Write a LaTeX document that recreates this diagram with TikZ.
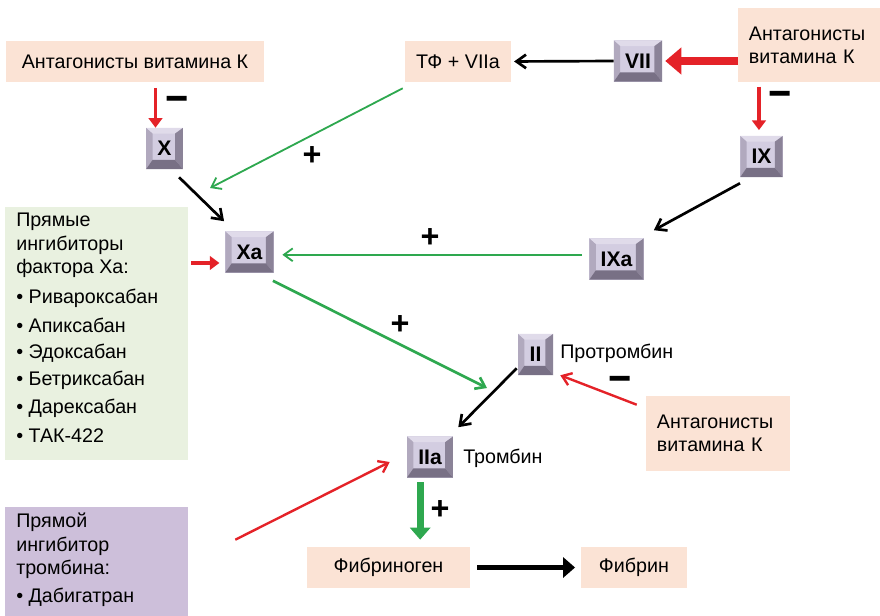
\documentclass[tikz,border=0pt]{standalone}
\usepackage{fontspec}
\setmainfont{Liberation Sans}
\usetikzlibrary{arrows.meta,positioning}
\definecolor{peach}{HTML}{FBE3D5}
\definecolor{sage}{HTML}{E9F1E0}
\definecolor{lilac}{HTML}{CDBFDA}
\definecolor{redarr}{HTML}{E42228}
\definecolor{grn}{HTML}{2EA84F}
\definecolor{face}{HTML}{D3CDE1}
\definecolor{bvtop}{HTML}{E0DBEA}
\definecolor{bvleft}{HTML}{B1A9BE}
\definecolor{bvright}{HTML}{8B8398}
\definecolor{bvbot}{HTML}{787085}
\tikzset{
  txt/.style={font=\fontsize{14}{16.5}\selectfont,align=left},
  pbox/.style={txt,fill=peach,inner sep=0pt},
  lst/.style={txt,anchor=west,inner sep=0pt},
  fac/.style={fill=face,font=\fontsize{15}{15}\selectfont\bfseries,inner xsep=8pt,
    minimum width=0.875cm,minimum height=1.025cm,
    path picture={
      \coordinate (sw) at (path picture bounding box.south west);
      \coordinate (ne) at (path picture bounding box.north east);
      \coordinate (nw) at (sw|-ne); \coordinate (se) at (ne|-sw);
      \fill[bvtop] (nw) -- (ne) -- ([shift={(-5.5pt,-4pt)}]ne) -- ([shift={(4.5pt,-4pt)}]nw) -- cycle;
      \fill[bvleft] (nw) -- (sw) -- ([shift={(4.5pt,6.5pt)}]sw) -- ([shift={(4.5pt,-4pt)}]nw) -- cycle;
      \fill[bvright] (ne) -- (se) -- ([shift={(-5.5pt,6.5pt)}]se) -- ([shift={(-5.5pt,-4pt)}]ne) -- cycle;
      \fill[bvbot] (sw) -- (se) -- ([shift={(-5.5pt,6.5pt)}]se) -- ([shift={(4.5pt,6.5pt)}]sw) -- cycle;
    }},
  sgn/.style={font=\fontsize{23}{23}\selectfont\bfseries,inner sep=0pt},
  sgnm/.style={font=\fontsize{21}{21}\selectfont\bfseries,inner sep=0pt,xscale=1.35,yscale=1.5,transform shape},
  arrk/.style={-{Straight Barb[length=2.4mm,width=3.4mm]},line width=1.9pt,color=black},
  arrg/.style={-{Straight Barb[length=2.2mm,width=3.2mm]},line width=1.3pt,color=grn},
  arrgm/.style={arrg,line width=1.9pt},
  arrr/.style={-{Straight Barb[length=2.2mm,width=3.2mm]},line width=1.7pt,color=redarr},
  arrrm/.style={-{Triangle[length=2.4mm,width=3.4mm]},line width=2.8pt,color=redarr},
  arrrt/.style={-{Triangle[length=4mm,width=6.5mm]},line width=6pt,color=redarr},
  arrgt/.style={-{Triangle[length=3mm,width=5mm]},line width=4.8pt,color=grn},
  arrkt/.style={-{Triangle[length=3mm,width=5mm]},line width=4.2pt,color=black},
}
\begin{document}
\begin{tikzpicture}[x=0.025cm,y=-0.025cm]
\useasboundingbox (0,0) rectangle (880,616);
% substrate and drug boxes
\node[pbox,minimum width=6.45cm,minimum height=1.025cm] (avk1) at (135,61.5) {Антагонисты витамина К};
\node[pbox,minimum width=2.65cm,minimum height=1.025cm] (tfv) at (458,61.5) {ТФ + VIIa};
\node[pbox,minimum width=3.55cm,minimum height=1.85cm,text width=3cm] (avk2) at (809,45) {Антагонисты\\витамина К};
\node[pbox,minimum width=3.6cm,minimum height=1.875cm,text width=3.05cm] (avk3) at (718,433.5) {Антагонисты\\витамина К};
\node[pbox,minimum width=4.075cm,minimum height=1.025cm] (fgn) at (388.5,567.5) {Фибриноген};
\node[pbox,minimum width=2.65cm,minimum height=1.025cm] (fbn) at (634,567.5) {Фибрин};
\node[fill=sage,minimum width=4.575cm,minimum height=6.325cm,inner sep=0pt] (grnb) at (96.5,333.5) {};
\node[fill=lilac,minimum width=4.575cm,minimum height=2.725cm,inner sep=0pt] (pur) at (96.5,561.5) {};
% factors
\node[fac] (X) at (164.5,148.5) {X};
\node[fac] (Xa) at (249.5,252) {Xa};
\node[fac] (VII) at (638,61) {VII};
\node[fac] (IX) at (761.5,156.5) {IX};
\node[fac] (IXa) at (616.5,259) {IXa};
\node[fac] (II) at (535.5,354.5) {II};
\node[fac] (IIa) at (430,457) {IIa};
\node[txt,anchor=west,inner sep=0pt] (ptr) at (560,353) {Протромбин};
\node[txt,anchor=west,inner sep=0pt] (tro) at (463,458) {Тромбин};
% drug lists
\node[txt,anchor=north west,inner sep=0pt] (grnh) at (16,213) {Прямые\\ингибиторы\\фактора Xa:};
\foreach \i/\t in {0/Ривароксабан,1/Апиксабан,2/Эдоксабан,3/Бетриксабан,4/Дарексабан,5/ТАК-422}
  \node[lst] (d\i) at (16,298+27.5*\i) {• \t};
\node[txt,anchor=north west,inner sep=0pt] (purh) at (16,513) {Прямой\\ингибитор\\тромбина:};
\node[lst] (dab) at (16,597) {• Дабигатран};
% connectors
\coordinate (xaL) at ([yshift=-7.8pt]Xa.west);
\coordinate (xaT) at (210,188);
\coordinate (iiaT) at (487,388);
\draw[arrrm,shorten <=4pt] ([xshift=-6.4pt]X.north |- avk1.south) -- ([xshift=-6.4pt]X.north);
\draw[arrrm,shorten <=3pt,shorten >=4pt] ([xshift=-1.8pt]IX.north |- avk2.south) -- ([xshift=-1.8pt]IX.north);
\draw[arrrt] (avk2.west |- VII.east) -- ([xshift=2pt]VII.east);
\draw[arrk,shorten >=2pt] (VII.west) -- (tfv.east);
\draw[arrg] ([shift={(-2,6)}]tfv.south west) -- (xaT);
\draw[arrk] ([shift={(-4,8)}]X.south east) -- ([shift={(-1,-10)}]Xa.north west);
\draw[arrk] ([shift={(0,6)}]IX.south west) -- ([shift={(10,-8)}]IXa.north east);
\draw[arrg,shorten <=5pt,shorten >=6pt] ([yshift=3pt]IXa.west) -- ([yshift=3pt]IXa.west -| Xa.east);
\draw[arrrm,shorten <=2pt,shorten >=4pt] (grnb.east |- xaL) -- (xaL);
\draw[arrgm] ([shift={(-1,8)}]Xa.south east) -- (iiaT);
\draw[arrk] ([shift={(-1,-7)}]II.south west) -- ([shift={(5,-9)}]IIa.north east);
\draw[arrr] ([shift={(-9,9)}]avk3.north west) -- ([shift={(7,0)}]II.south east);
\draw[arrr] ([shift={(47,33)}]pur.north east) -- ([shift={(-17,5)}]IIa.west);
\draw[arrgt,shorten <=3pt,shorten >=5pt] ([xshift=-7pt]IIa.south) -- ([xshift=-7pt]IIa.south |- fgn.north);
\draw[arrkt,shorten <=5pt,shorten >=4pt] (fgn.east) -- (fbn.west);
% signs
\node[sgnm] (m1) at (177,105) {−};
\node[sgnm] (m2) at (780,100) {−};
\node[sgnm] (m3) at (620,385) {−};
\node[sgn] (p1) at (312,156) {+};
\node[sgn] (p2) at (430,238) {+};
\node[sgn] (p3) at (400,325) {+};
\node[sgn] (p4) at (440,510) {+};
\end{tikzpicture}
\end{document}
